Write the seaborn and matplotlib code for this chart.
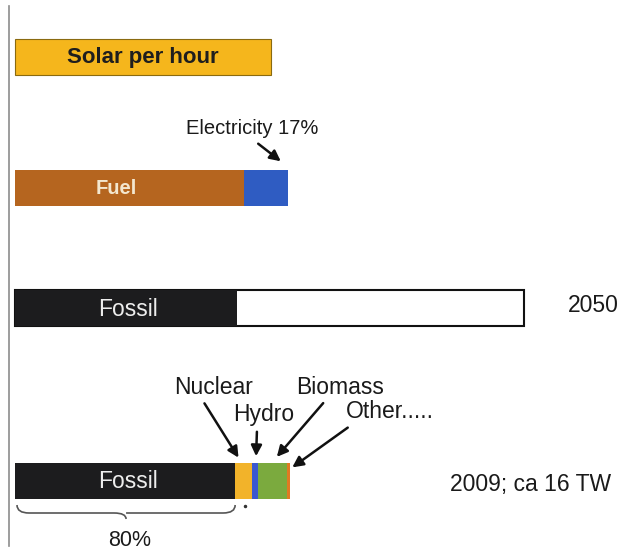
import matplotlib
matplotlib.use("Agg")
import matplotlib.pyplot as plt
from matplotlib.transforms import Affine2D
from matplotlib.path import Path
from matplotlib.patches import PathPatch
import seaborn as sns
import pandas as pd

# ---- data (TW) ----
rows       = ["Solar per hour", "Fuel", "2050", "2009"]
row_pos    = [57, 188, 308, 481]          # vertical slot of each bar
segments   = [
    ["Solar"],
    ["Fuel", "Electricity"],
    ["Fossil", "Free"],
    ["Fossil", "Nuclear", "Hydro", "Biomass", "Other"],
]
values     = [
    [14.9],
    [13.3, 2.6],
    [12.9, 16.7],
    [12.8, 1.0, 0.3, 1.7, 0.2],
]

COLORS = {
    "Solar": "#F5B61C",
    "Fuel": "#B5651F",
    "Electricity": "#2F5CC2",
    "Fossil": "#1C1C1E",
    "Free": "#FFFFFF",
    "Nuclear": "#F2B32A",
    "Hydro": "#3A57D0",
    "Biomass": "#7BAA3E",
    "Other": "#E07A22",
}

W, H = 622, 550
PX_PER_TW = 17.2
X0 = 15  # pixel where bars start

# long table: each segment drawn as a bar from 0 to its cumulative end,
# longest first so the shorter ones sit on top
recs = []
for r, y, segs, vals in zip(rows, row_pos, segments, values):
    end = 0
    for s, v in zip(segs, vals):
        end += v
        recs.append({"row": r, "y": y, "seg": s, "key": f"{r}|{s}", "end": end})
df = pd.DataFrame(recs).sort_values("end", ascending=False)
palette = {k: COLORS[k.split("|")[1]] for k in df["key"]}

fig = plt.figure(figsize=(W / 100, H / 100), dpi=100)
ax = fig.add_axes([0, 0, 1, 1])
sns.barplot(data=df, x="end", y="y", hue="key", hue_order=list(df["key"]),
            palette=palette, orient="h", native_scale=True, dodge=False,
            width=0.3, legend=False, linewidth=0, saturation=1, ax=ax)

ax.set_xlim(-X0 / PX_PER_TW, (W - X0) / PX_PER_TW)
ax.set_ylim(H, 0)
ax.axis("off")

# outline for the open 2050 part, thin rim for solar
for p in ax.patches:
    fc = matplotlib.colors.to_hex(p.get_facecolor())
    if fc == "#ffffff":
        p.set_edgecolor("#111111")
        p.set_linewidth(1.5)
    elif fc == COLORS["Solar"].lower():
        p.set_edgecolor("#8a6a10")
        p.set_linewidth(0.8)

# pixel coordinates, y down
T = Affine2D().scale(1 / W, -1 / H).translate(0, 1) + ax.transAxes
FONT = ["Liberation Sans", "DejaVu Sans"]

ax.plot([9, 9], [6, 546], color="#8c8c8c", lw=1.2, transform=T)

def label(x, y, s, **kw):
    kw.setdefault("fontsize", 16.5)
    kw.setdefault("color", "#1a1a1a")
    ax.text(x, y, s, transform=T, ha="center", va="center", family=FONT, **kw)

label(143, 57, "Solar per hour", fontweight="bold", color="#1e1e1e", fontsize=16)
label(116, 189, "Fuel", fontweight="bold", color="#F3E7CF", fontsize=14.5)
label(128, 309, "Fossil", color="#EDEDED", fontsize=16.5)
label(128, 482, "Fossil", color="#EDEDED", fontsize=16.5)
label(252, 128, "Electricity 17%", fontsize=14.5)
label(593, 306, "2050", fontsize=16.5)
label(531, 484, "2009; ca 16 TW", fontsize=16.5)
label(130, 541, "80%", fontsize=15.5)

arrow = dict(arrowstyle="-|>", color="#111111", lw=1.8, mutation_scale=16)

def note(s, xy_text, xy_tip, start):
    label(*xy_text, s)
    ax.annotate("", xy=xy_tip, xytext=start, xycoords=T, textcoords=T,
                arrowprops=arrow)

ax.annotate("", xy=(283, 163), xytext=(256, 142), xycoords=T, textcoords=T,
            arrowprops=arrow)
note("Nuclear", (214, 388), (240, 460), (203, 401))
note("Hydro", (264, 415), (256, 459), (257, 429))
note("Biomass", (340, 388), (275, 459), (325, 401))
note("Other.....", (390, 412), (290, 469), (350, 426))

# brace under the 2009 fossil share
x_a = X0 + 2
x_b = X0 + values[3][0] * PX_PER_TW
xm = (x_a + x_b) / 2
yt, yb = 505, 519
verts = [(x_a, yt), (x_a, yt + 8), (x_a + 12, yt + 8),
         (xm - 12, yt + 8), (xm, yt + 8), (xm, yb),
         (xm, yt + 8), (xm + 12, yt + 8),
         (x_b - 12, yt + 8), (x_b, yt + 8), (x_b, yt)]
codes = [Path.MOVETO, Path.CURVE3, Path.CURVE3,
         Path.LINETO, Path.CURVE3, Path.CURVE3,
         Path.MOVETO, Path.LINETO,
         Path.LINETO, Path.CURVE3, Path.CURVE3]
ax.add_patch(PathPatch(Path(verts, codes), facecolor="none",
                       edgecolor="#555555", lw=1.2, transform=T))
ax.plot([245], [506], marker="o", ms=1.5, color="#333333", transform=T)

fig.savefig("out.png", dpi=100, facecolor="white")
